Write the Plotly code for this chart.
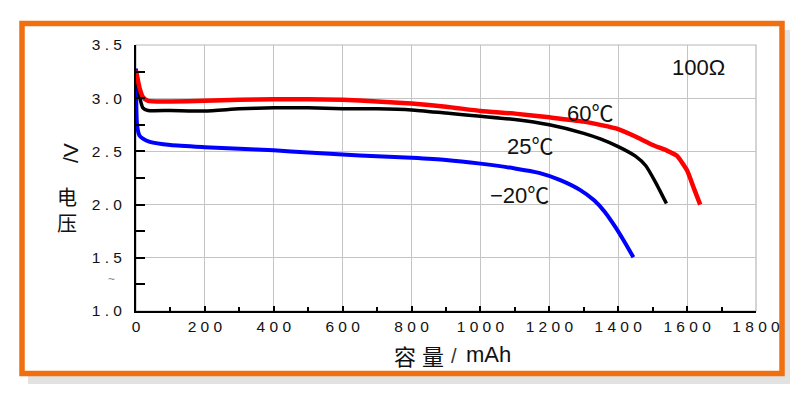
import plotly.graph_objects as go

# ---- data ----
cap_60 = [0, 10, 20, 35, 100, 200, 300, 400, 500, 600, 700, 800, 900, 1000,
          1100, 1200, 1300, 1400, 1450, 1500, 1540, 1570, 1600, 1620, 1638]
v_60 = [3.26, 3.10, 3.01, 2.975, 2.97, 2.975, 2.985, 2.99, 2.99, 2.985, 2.97,
        2.95, 2.92, 2.88, 2.855, 2.82, 2.78, 2.71, 2.64, 2.56, 2.51, 2.46,
        2.32, 2.15, 2.00]

cap_25 = [0, 10, 20, 35, 100, 200, 300, 400, 500, 600, 700, 800, 900, 1000,
          1100, 1200, 1300, 1350, 1400, 1450, 1480, 1510, 1540]
v_25 = [3.24, 3.02, 2.91, 2.885, 2.885, 2.88, 2.90, 2.91, 2.91, 2.90, 2.90,
        2.89, 2.86, 2.83, 2.80, 2.75, 2.67, 2.615, 2.545, 2.455, 2.365, 2.20,
        2.01]

cap_m20 = [0, 3, 10, 20, 40, 100, 200, 300, 400, 500, 600, 700, 800, 900,
           1000, 1100, 1170, 1230, 1290, 1330, 1360, 1390, 1415, 1444]
v_m20 = [3.28, 2.75, 2.65, 2.62, 2.59, 2.56, 2.54, 2.525, 2.51, 2.49, 2.47,
         2.455, 2.44, 2.42, 2.385, 2.34, 2.298, 2.232, 2.136, 2.04, 1.935,
         1.797, 1.667, 1.505]

x_ticks = [0, 200, 400, 600, 800, 1000, 1200, 1400, 1600, 1800]
x_ticktext = ["0", "2 0 0", "4 0 0", "6 0 0", "8 0 0", "1 0 0 0", "1 2 0 0",
              "1 4 0 0", "1 6 0 0", "1 8 0 0"]
x_minor = [100, 300, 500, 700, 900, 1100, 1300, 1500, 1700]
y_ticks = [1.0, 1.5, 2.0, 2.5, 3.0, 3.5]
y_ticktext = ["1 . 0", "1 . 5", "2 . 0", "2 . 5", "3 . 0", "3 . 5"]
y_minor = [1.25, 1.75, 2.25, 2.75, 3.25]

series_labels = ["60℃", "25℃", "−20℃"]

FONT = "Liberation Sans, Arial, Noto Sans CJK SC, sans-serif"
CJK = "Noto Sans CJK SC, sans-serif"

fig = go.Figure()
fig.add_trace(go.Scatter(x=cap_m20, y=v_m20, mode="lines",
                         line=dict(color="#0000ff", width=4, shape="spline", smoothing=0.6),
                         showlegend=False))
fig.add_trace(go.Scatter(x=cap_25, y=v_25, mode="lines",
                         line=dict(color="#000000", width=3.5, shape="spline", smoothing=0.5),
                         showlegend=False))
fig.add_trace(go.Scatter(x=cap_60, y=v_60, mode="lines",
                         line=dict(color="#ff0000", width=4.5, shape="spline", smoothing=0.5),
                         showlegend=False))

# page is offset by the 8px body margin: work in page pixels, convert
OFF = 8
FW, FH = 800, 398
L, R, T, B = 136 - OFF, 756 - OFF, 45 - OFF, 311 - OFF
W, H = R - L, B - T


def px(x):
    return (x - OFF - L) / W


def py(y):
    return (B - (y - OFF)) / H


shapes = [
    # shadow
    dict(type="rect", xref="paper", yref="paper", x0=px(28), x1=px(790),
         y0=py(384), y1=py(30), fillcolor="#e2e2e2", line=dict(width=0), layer="below"),
    # frame
    dict(type="rect", xref="paper", yref="paper", x0=px(22), x1=px(782),
         y0=py(373.5), y1=py(23.5), fillcolor="white",
         line=dict(color="#f07010", width=5.5), layer="below"),
    # gray plot box (top/right)
    dict(type="rect", xref="paper", yref="paper", x0=0, x1=1, y0=0, y1=1,
         line=dict(color="#b8b8b8", width=1.2), layer="below"),
]


def ann(text, x, y, size, family=FONT, angle=0, color="#111"):
    return dict(text=text, x=px(x), y=py(y), xref="paper", yref="paper",
                xanchor="center", yanchor="middle",
                textangle=angle, showarrow=False,
                font=dict(family=family, size=size, color=color))


annotations = [
    ann("100Ω", 698, 67, 22),
    ann(series_labels[0], 590, 113, 22),
    ann(series_labels[1], 530, 146, 22),
    ann(series_labels[2], 519, 195, 22),
    # y title pieces
    ann("/V", 70, 153, 21, angle=-90),
    ann("电<br>压", 67, 209, 20, family=CJK),
    ann("~", 111, 279, 12, color="#888"),
    # x title pieces
    ann("容", 405, 355, 22, family=CJK),
    ann("量", 433, 355, 22, family=CJK),
    ann("/", 454, 356, 20, color="#333"),
    ann("mAh", 488, 355, 22),
]

fig.update_layout(
    width=FW, height=FH,
    margin=dict(l=L, r=FW - R, t=T, b=FH - B),
    paper_bgcolor="white", plot_bgcolor="rgba(0,0,0,0)",
    shapes=shapes, annotations=annotations,
    font=dict(family=FONT, color="#111"),
)
fig.update_xaxes(
    range=[0, 1800], tickmode="array", tickvals=x_ticks, ticktext=x_ticktext,
    showgrid=True, gridcolor="#c4c4c4", gridwidth=1, zeroline=False,
    showline=True, linecolor="black", linewidth=2,
    ticks="inside", ticklen=5, tickwidth=2, tickcolor="black",
    minor=dict(tickmode="array", tickvals=x_minor,
               ticks="inside", ticklen=4, tickwidth=2, tickcolor="black", showgrid=False),
    tickfont=dict(family=FONT, size=15.5, color="#111"),
)
fig.update_yaxes(
    range=[1.0, 3.5], tickmode="array", tickvals=y_ticks, ticktext=y_ticktext,
    showgrid=True, gridcolor="#c4c4c4", gridwidth=1, zeroline=False,
    showline=True, linecolor="black", linewidth=2,
    ticks="inside", ticklen=9, tickwidth=2, tickcolor="black",
    minor=dict(tickmode="array", tickvals=y_minor,
               ticks="inside", ticklen=9, tickwidth=2, tickcolor="black", showgrid=False),
    tickfont=dict(family=FONT, size=15.5, color="#111"),
    ticklabelstandoff=9,
)

fig.write_html("out.html")
